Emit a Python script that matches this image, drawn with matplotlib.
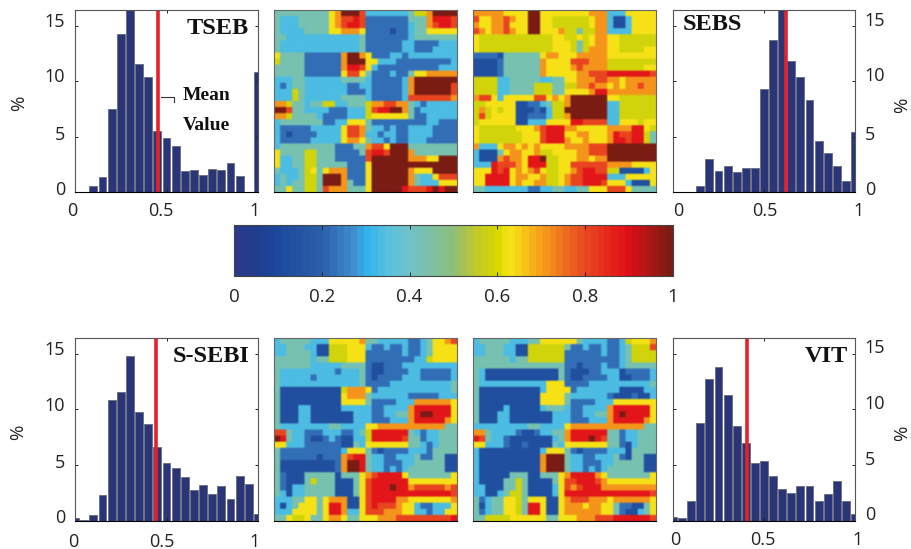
import numpy as np
import matplotlib
matplotlib.use('Agg')
from matplotlib import pyplot as plt
from matplotlib.cm import ScalarMappable
from matplotlib.colors import LinearSegmentedColormap, Normalize
from matplotlib.transforms import ScaledTranslation

plt.rcParams['font.family'] = ['Open Sans', 'DejaVu Sans']

W, H = 912, 549

bin_centers = [0, .05, .1, .15, .2, .25, .3, .35, .4, .45, .5, .55, .6, .65, .7, .75, .8, .85, .9, .95, 1]
tseb_hist = [0, 0, .5, 1.35, 7.5, 14.2, 16.5, 11.5, 10.4, 5.5, 4.85, 4.1, 1.85, 2.0, 1.5, 2.05, 1.95, 2.6, 1.4, 0, 10.8]
sebs_hist = [0, 0, 0, .55, 2.95, 1.9, 2.35, 1.8, 2.2, 2.2, 9.3, 13.7, 16.5, 11.8, 10.4, 8.3, 4.6, 3.55, 2.3, .95, 5.45]
ssebi_hist = [.3, .1, .55, 2.3, 10.8, 11.6, 14.8, 9.8, 8.7, 6.6, 5.2, 4.75, 3.9, 2.8, 3.2, 2.4, 3.1, 2.0, 4.05, 3.3, .6]
vit_hist = [.4, .25, 1.75, 8.75, 12.7, 13.8, 11.3, 8.5, 7.0, 5.2, 5.4, 4.05, 2.9, 2.55, 3.15, 3.1, 1.8, 2.45, 3.55, 1.75, .65]

tseb_mean = 0.456
sebs_mean = 0.622
ssebi_mean = 0.44
vit_mean = 0.405

hist_xticks = [0, .5, 1]
hist_xlabels = ['0', '0.5', '1']
hist_yticks = [0, 5, 10, 15]
hist_ylabels = ['0', '5', '10', '15']
cbar_ticks = [0, .2, .4, .6, .8, 1]
cbar_labels = ['0', '0.2', '0.4', '0.6', '0.8', '1']

# colours
cmap_stops = [0, .05, .1, .2, .27, .3, .35, .4, .5, .55, .6, .63, .7, .8, .9, 1]
cmap_colors = ['#2b3a8c', '#1f3d8f', '#1c4a9c', '#2d60ab', '#3f8fd0', '#2fb4ea', '#5bc0de', '#6fc2c8',
               '#8dbf7a', '#c0c82c', '#d7d800', '#f5e616', '#f7a11a', '#e84a20', '#e20f18', '#7a1c14']

# one character per cell, see cell_values
cell_values = {'1': .13, '2': .22, '3': .33, '4': .43, '5': .58, '6': .635,
               '7': .71, '8': .8, '9': .89, 'x': 1.0}

map_a = [
    "44444 444467 xxx8 3333333 4557xxxx",
    "43334 444467 8898 2222222 44479998",
    "43334 444467 8998 2222222 34478998",
    "43333 444466 7776 2222122 34466666",
    "44333 333333 3334 2222222 34444444",
    "43333 333333 3334 2222223 32222333",
    "43333 333333 3334 2222223 32223333",
    "64444 222222 7xx7 6222332 33333333",
    "54444 222222 7xxx 6633322 22222223",
    "44444 222222 7998 6322222 22222333",
    "44444 222222 6886 4222322 46677777",
    "33344 333333 4444 3222223 7xxxxxxx",
    "32344 333333 3223 3222223 7xxxxxx8",
    "33354 333333 3222 3222223 7xxxxxx8",
    "33354 333333 4444 3222223 88888887",
    "77544 344553 3444 5778877 43233333",
    "xx844 333322 2333 5899xx7 42333333",
    "77544 443222 2333 5666666 42233333",
    "34444 444223 3666 4222222 22233222",
    "32222 233333 6887 4332322 33332222",
    "32122 223333 6887 3323322 33332222",
    "32222 233333 6776 4332322 33322222",
    "34444 444442 2244 7886xxx 44444444",
    "64444 554442 2224 8998xxx 74444444",
    "63344 554442 2222 8xxxxxx 77766xxx",
    "63344 554444 4222 6xxxxxx xxxxxxxx",
    "43334 564677 7222 6xxxxxx 7666xxxx",
    "34334 554xxx 7222 6xxxxxx 74336888",
    "34344 554xxx 7422 6xxxxxx 74333666",
    "44644 554877 7444 6xxxxx9 8889x9xx",
]
map_b = [
    "77777 6666xx 6666 6666777 33366666",
    "86677 8766xx 6655 5555677 31136666",
    "76677 8666xx 6655 5555677 31136666",
    "87677 8766xx 6667 5545577 33336666",
    "65555 555555 5566 5565677 66555555",
    "65555 555555 5566 6545677 66555555",
    "65555 555555 5566 6545777 66555566",
    "22221 444444 6776 6677777 66666666",
    "11112 444444 7666 6888777 55555555",
    "11112 444444 7666 6787777 55555566",
    "11112 444444 7666 6677888 99999998",
    "55553 344444 3344 6677788 77677777",
    "55553 344445 5544 5577877 67677877",
    "55553 344445 5544 6666799 77777777",
    "78863 666668 8676 7xxxxxx 66555555",
    "55666 661122 3455 7xxxxxx 33555555",
    "57565 661112 1355 xxxxxxx 33555555",
    "58566 661122 2355 7xxxxxx 33555555",
    "56666 661133 3666 6998888 33666566",
    "65555 556667 8999 7766666 77779965",
    "65555 555666 8999 6677666 79889954",
    "65555 555666 8999 7667666 79989954",
    "73336 776767 6666 7777888 xxxxxxxx",
    "31114 677667 5566 6677888 xxxxxxxx",
    "31117 877699 x556 6677677 xxxxxxxx",
    "33398 887699 9556 6888888 77776666",
    "66698 967678 6556 6789988 55111136",
    "66999 967766 7556 7889999 33366666",
    "66999 967667 7556 7889998 66631116",
    "44333 333322 3344 3344666 88864444",
]
map_c = [
    "34444 433366 6667 4433333 22346678",
    "33444 331155 5666 3223223 22346666",
    "33444 431155 5666 2222223 22346666",
    "44444 434455 5666 2222222 23356666",
    "44444 433333 4444 2112223 33333333",
    "43333 333332 3334 2112222 33222223",
    "43333 323333 3334 2122223 33222223",
    "43333 333333 3334 2222333 33333334",
    "41111 111111 5777 6233333 33333334",
    "41111 111111 6777 4333333 22222333",
    "41111 111111 6666 4222233 37777776",
    "41113 311111 3333 3223333 79999996",
    "41113 311111 1133 3223344 79xx9996",
    "41113 311111 1133 3222333 79999976",
    "43333 333344 3333 6677777 77777744",
    "88433 222333 2234 5999999 43233444",
    "x9433 211232 1133 5999998 44233444",
    "66333 222222 1143 6666666 44323444",
    "42222 222222 3666 4212222 33324444",
    "42222 221222 7899 4332233 34224411",
    "41111 111112 7xx9 4332223 34444411",
    "41111 111112 7xx9 4332323 44444411",
    "42111 444441 4446 7899996 44444446",
    "42111 454441 1146 8999999 66666666",
    "42133 444441 1146 8999x99 78888878",
    "43133 444441 1146 8999999 99999998",
    "33344 664677 7116 8999977 66666667",
    "31346 664699 7116 8988876 63223336",
    "33366 664699 7336 8887776 63323366",
    "44655 644677 6446 6677788 88888889",
]
map_d = [
    "34444 433344 6666 6643333 22356667",
    "33444 331155 5555 4223223 22345558",
    "33444 331155 5555 2222223 22345555",
    "44444 434455 5555 2222222 22345555",
    "44444 444444 4444 2212223 22344444",
    "43111 111111 1114 2111223 33122223",
    "43111 111111 1114 2112222 33112223",
    "43333 333333 3666 2222333 33333334",
    "41111 111111 3666 6233333 33111133",
    "41111 111111 6666 4333333 21112113",
    "41111 111111 6666 4222233 36666666",
    "41111 311111 3444 3223333 79999996",
    "41113 311111 1133 3223344 79x99996",
    "41113 311111 1133 3222333 79999976",
    "33333 333344 3333 6777777 77777744",
    "77433 332112 3344 7999999 44233444",
    "98433 211111 1134 7999x98 44233444",
    "66333 211211 1143 6666666 44213444",
    "31111 111111 3666 4212222 33314444",
    "31111 111111 7xxx 4332233 34214411",
    "31111 111111 7xxx 4332223 34444411",
    "31111 111111 7xxx 4332323 44444411",
    "31111 144411 4446 7999976 44444446",
    "31111 445411 1146 8899987 66666666",
    "33111 445411 1136 8789997 77777777",
    "33113 455411 1136 9999999 99999998",
    "42344 665466 6116 7888777 67777776",
    "41344 665499 6116 7776776 64221146",
    "42344 665499 6116 7777776 64211346",
    "44555 566666 6446 6677788 89999998",
]

jet_like = LinearSegmentedColormap.from_list('jet_like', list(zip(cmap_stops, cmap_colors)), N=64)


#turn a rectangle in picture pixels into figure coordinates
def box(x0, y0, x1, y1):
    return [x0 / W, 1 - y1 / H, (x1 - x0) / W, (y1 - y0) / H]


def shift_labels(labels, fig, offsets):
    for lab, (dx, dy) in zip(labels, offsets):
        lab.set_transform(lab.get_transform() + ScaledTranslation(dx / 100, dy / 100, fig.dpi_scale_trans))


def draw_hist(fig, rect, vals, mean, right, xoff, yoff):
    ax = fig.add_axes(box(*rect))
    ax.bar(bin_centers, vals, width=.043, color='#2a3478', edgecolor='#6f7280', linewidth=.7)
    ax.axvline(mean, color='#e8202a', linewidth=2.6)
    ax.set_xlim(0, 1)
    ax.set_ylim(0, 16.4)
    ax.set_xticks(hist_xticks, hist_xlabels)
    ax.set_yticks(hist_yticks, hist_ylabels)
    ax.tick_params(direction='in', length=2, width=.7, top=True, right=True, labelsize=13,
                   colors='#222222', pad=7)
    if right:
        ax.yaxis.tick_right()
        ax.tick_params(axis='y', left=True, direction='in', length=2, pad=7)
    shift_labels(ax.get_xticklabels(), fig, xoff)
    shift_labels(ax.get_yticklabels(), fig, yoff)
    for s in ax.spines.values():
        s.set_color('#555555')
    ax.spines['bottom'].set_color('black')
    return ax


#colours are blended after the colormap so the cells stay blocky but a bit soft, like the scan
def draw_map(fig, rect, rows):
    cells = np.array([[cell_values[c] for c in r if c != ' '] for r in rows])
    rgb = jet_like(cells)
    rgb = np.repeat(np.repeat(rgb, 2, axis=0), 2, axis=1)
    ax = fig.add_axes(box(*rect))
    ax.imshow(rgb, aspect='auto', interpolation='hanning')
    ax.set_xticks([])
    ax.set_yticks([])
    for s in ax.spines.values():
        s.set_color('#666666')
    ax.spines['bottom'].set_color('black')


def px_text(fig, x, y, s, **kw):
    fig.text(x / W, 1 - y / H, s, ha='center', va='center', **kw)


fig = plt.figure(figsize=(W / 100, H / 100), dpi=100)

# histograms on the outside
draw_hist(fig, (75, 10, 258, 192), tseb_hist, tseb_mean, False,
          [(-3, 0), (-6, 0), (-3, 0)], [(0, 4), (0, 4), (0, 6), (0, 6)])
draw_hist(fig, (673, 10, 855, 192), sebs_hist, sebs_mean, True,
          [(5, 0), (1, 0), (4, 0)], [(0, 4), (0, 4), (0, 7), (0, 7)])
draw_hist(fig, (75, 338, 258, 521), ssebi_hist, ssebi_mean, False,
          [(-2, -2), (-5, -2), (-3, -2)], [(0, 5), (0, 4), (0, 5), (0, 6)])
draw_hist(fig, (673, 338, 855, 521), vit_hist, vit_mean, True,
          [(2, 0), (-1, 0), (3, 0)], [(0, 8), (0, 7), (0, 7), (0, 8)])

# maps in the middle
draw_map(fig, (274, 10, 457, 192), map_a)
draw_map(fig, (473, 10, 656, 192), map_b)
draw_map(fig, (274, 338, 457, 521), map_c)
draw_map(fig, (473, 338, 656, 521), map_d)

cax = fig.add_axes(box(234, 225, 673, 276))
cbar = fig.colorbar(ScalarMappable(Normalize(0, 1), jet_like), cax=cax, orientation='horizontal', ticks=cbar_ticks)
cbar.ax.set_xticklabels(cbar_labels)
cbar.ax.tick_params(direction='in', length=3, width=.7, top=True, labelsize=13.5, colors='#222222', pad=9)
cbar.outline.set_edgecolor('#444444')

for x, y in [(19, 103), (902, 105), (18, 432), (902, 433)]:
    px_text(fig, x, y, '%', rotation=90, fontsize=13.5, color='#222222')

for x, y, name in [(218, 28, 'TSEB'), (712, 25, 'SEBS'), (211, 356, 'S-SEBI'), (826, 357, 'VIT')]:
    px_text(fig, x, y, name, family='Liberation Serif', fontweight='bold', fontsize=17.5, color='#111111')

px_text(fig, 207, 96, 'Mean', family='Liberation Serif', fontweight='bold', fontsize=14, color='#111111')
px_text(fig, 206, 125, 'Value', family='Liberation Serif', fontweight='bold', fontsize=14, color='#111111')
# little bracket from the mean line to the label
fig.add_artist(plt.Line2D([161 / W, 174 / W, 174 / W], [1 - 97 / H, 1 - 97 / H, 1 - 102 / H],
                          color='#333333', linewidth=.8))

plt.savefig('out.png', dpi=100)
